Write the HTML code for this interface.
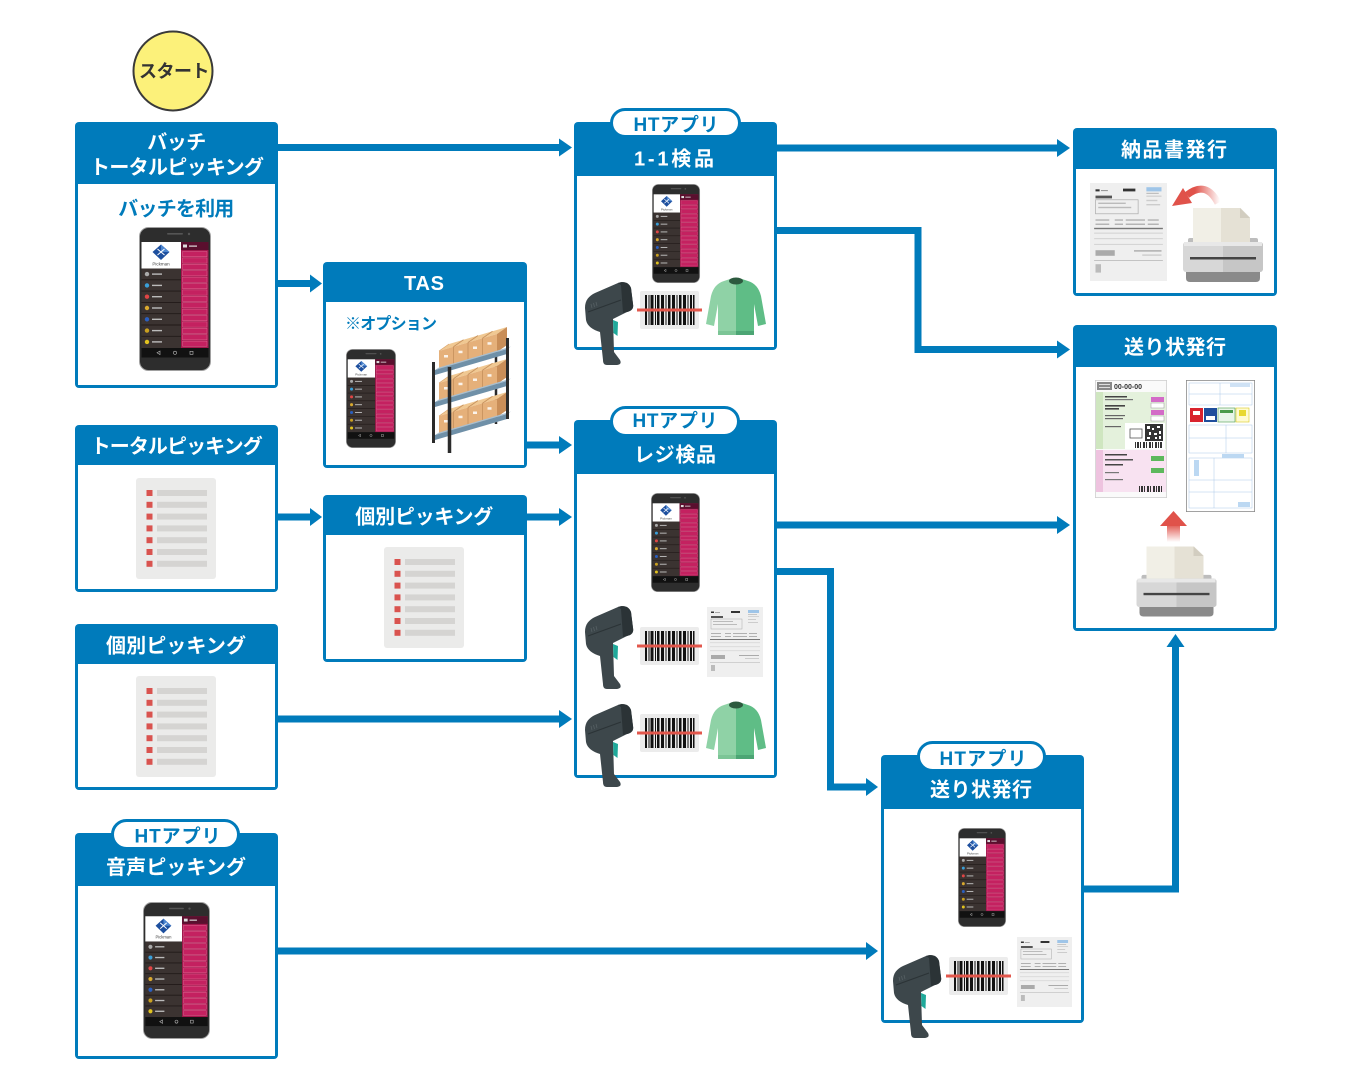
<!DOCTYPE html>
<html><head><meta charset="utf-8">
<style>
html,body{margin:0;padding:0;background:#fff;width:1352px;height:1090px;overflow:hidden}
svg{display:block}
.t{font-family:"Liberation Sans","Noto Sans CJK JP",sans-serif;font-weight:700;text-anchor:middle}
.w{fill:#fff;font-size:20px}
.b{fill:#007bbb;font-size:19px}
</style></head><body>
<svg width="1352" height="1090" viewBox="0 0 1352 1090" xmlns="http://www.w3.org/2000/svg">
<defs>
 <linearGradient id="fadeL" gradientUnits="userSpaceOnUse" x1="1220" y1="0" x2="1195" y2="0">
  <stop offset="0" stop-color="#e0524a" stop-opacity="0"/><stop offset="1" stop-color="#e0524a" stop-opacity="1"/>
 </linearGradient>
 <linearGradient id="fadeU" gradientUnits="userSpaceOnUse" x1="0" y1="542" x2="0" y2="524">
  <stop offset="0" stop-color="#e0524a" stop-opacity="0"/><stop offset="1" stop-color="#e0524a" stop-opacity="1"/>
 </linearGradient>
 <linearGradient id="sw" x1="0" y1="0" x2="1" y2="0">
  <stop offset="0" stop-color="#8fd2a6"/><stop offset="0.5" stop-color="#8fd2a6"/><stop offset="0.5" stop-color="#5fbd86"/><stop offset="1" stop-color="#5fbd86"/>
 </linearGradient>

 <g id="phone">
  <rect x="0.5" y="0.5" width="71" height="143" rx="9" fill="#2d2d2d" stroke="#a0a0a0"/>
  <rect x="28" y="6" width="16" height="1.6" rx="0.8" fill="#555"/>
  <circle cx="50" cy="7" r="1.2" fill="#555"/>
  <rect x="2.5" y="15" width="67" height="106" fill="#3b3331"/>
  <rect x="2.5" y="15" width="39.5" height="26.5" fill="#fff"/>
  <polygon points="22,17.5 30.5,25 22,33 13.5,25" fill="#1d4f9e"/>
  <polygon points="22,17.5 30.5,25 22,25" fill="#4d86cf"/>
  <path d="M18.5,22 L25.5,28 M25.5,22 L18.5,28" stroke="#fff" stroke-width="1"/>
  <text x="22" y="38.5" font-size="4.5" fill="#444" text-anchor="middle" font-family="Liberation Sans,sans-serif">Pickman</text>
  <path d="M2.5,52.8H42M2.5,64.1H42M2.5,75.4H42M2.5,86.7H42M2.5,98H42M2.5,109.3H42" stroke="#211a18" stroke-width="0.9"/>
  <circle cx="8" cy="47.1" r="2.2" fill="#aaa"/><rect x="13" y="46.4" width="10" height="1.4" fill="#bbb"/>
  <circle cx="8" cy="58.4" r="2.2" fill="#3a9fd8"/><rect x="13" y="57.7" width="10" height="1.4" fill="#bbb"/>
  <circle cx="8" cy="69.7" r="2.2" fill="#e04545"/><rect x="13" y="69" width="10" height="1.4" fill="#bbb"/>
  <circle cx="8" cy="81" r="2.2" fill="#d9a92e"/><rect x="13" y="80.3" width="10" height="1.4" fill="#bbb"/>
  <circle cx="8" cy="92.3" r="2.2" fill="#2a5fc0"/><rect x="13" y="91.6" width="10" height="1.4" fill="#bbb"/>
  <circle cx="8" cy="103.6" r="2.2" fill="#c9a020"/><rect x="13" y="102.9" width="10" height="1.4" fill="#bbb"/>
  <circle cx="8" cy="114.9" r="2.2" fill="#e1c21f"/><rect x="13" y="114.2" width="10" height="1.4" fill="#bbb"/>
  <rect x="42" y="15" width="27.5" height="106" fill="#a3174d"/>
  <rect x="42" y="15" width="27.5" height="8" fill="#5a0f2e"/>
  <rect x="44" y="17.5" width="4" height="3" fill="#ddd"/><rect x="50" y="18.5" width="8" height="1.2" fill="#ddd"/>
  <g fill="#c42160" stroke="#e67aa0" stroke-width="0.4">
   <rect x="43.5" y="24.5" width="24.5" height="5.2"/><rect x="43.5" y="30.9" width="24.5" height="5.2"/>
   <rect x="43.5" y="37.3" width="24.5" height="5.2"/><rect x="43.5" y="43.7" width="24.5" height="5.2"/>
   <rect x="43.5" y="50.1" width="24.5" height="5.2"/><rect x="43.5" y="56.5" width="24.5" height="5.2"/>
   <rect x="43.5" y="62.9" width="24.5" height="5.2"/><rect x="43.5" y="69.3" width="24.5" height="5.2"/>
   <rect x="43.5" y="75.7" width="24.5" height="5.2"/><rect x="43.5" y="82.1" width="24.5" height="5.2"/>
   <rect x="43.5" y="88.5" width="24.5" height="5.2"/><rect x="43.5" y="94.9" width="24.5" height="5.2"/>
   <rect x="43.5" y="101.3" width="24.5" height="5.2"/><rect x="43.5" y="107.7" width="24.5" height="5.2"/>
   <rect x="43.5" y="114.1" width="24.5" height="5.2"/>
  </g>
  <rect x="2.5" y="121" width="67" height="9.5" fill="#111"/>
  <g fill="none" stroke="#bbb" stroke-width="0.6">
   <polygon points="18,125.8 21,124 21,127.6"/><circle cx="36" cy="125.8" r="1.6"/><rect x="51" y="124.3" width="3" height="3"/>
  </g>
 </g>

 <g id="scanner">
  <path d="M0,26 C0,18 4,14 10,11 L33,1 C38,-1 44,0 46,6 L48,22 C49,27 46,29 42,30 L28,37 L29,70 L35,78 C37,82 34,83 31,83 L22,83 C19,83 18,81 18,78 L15,50 C8,48 2,44 1,38 Z" fill="#3d474b"/>
  <path d="M33,1 C38,-1 44,0 46,6 L48,22 C49,27 46,29 42,30 L38,31 L36,3 Z" fill="#2b3336"/>
  <path d="M3,30 L36,18" stroke="#2b3336" stroke-width="1"/>
  <path d="M6,22 L7,26 M8.5,21 L9.5,25 M11,20 L12,24" stroke="#566064" stroke-width="0.8"/>
  <path d="M28,38 L33,40 L32.5,54 L28.5,51 Z" fill="#1fa99a"/>
 </g>

 <g id="barcode">
  <rect x="0" y="0" width="59" height="38" rx="2" fill="#ececec"/>
  <g fill="#111">
   <rect x="5" y="4" width="2" height="30"/><rect x="8.5" y="4" width="1" height="30"/><rect x="10.5" y="4" width="3" height="30"/>
   <rect x="15" y="4" width="1" height="30"/><rect x="17" y="4" width="2.5" height="30"/><rect x="21" y="4" width="3" height="30"/>
   <rect x="25.5" y="4" width="1" height="30"/><rect x="28" y="4" width="2.5" height="30"/><rect x="32" y="4" width="3" height="30"/>
   <rect x="36.5" y="4" width="1" height="30"/><rect x="39" y="4" width="2.5" height="30"/><rect x="43" y="4" width="3" height="30"/>
   <rect x="47.5" y="4" width="1" height="30"/><rect x="50" y="4" width="2" height="30"/><rect x="53" y="4" width="1.5" height="30"/>
  </g>
  <rect x="-3" y="17.5" width="65" height="3" fill="#e2574c"/>
 </g>

 <g id="sweater">
  <path d="M18,3 L24,1 Q30,8 36,1 L42,3 Q52,6 55,18 L60,46 L52,48 L48,26 L48,57 L12,57 L12,26 L8,48 L0,46 L5,18 Q8,6 18,3 Z" fill="url(#sw)"/>
  <ellipse cx="30" cy="3" rx="7" ry="3.5" fill="#2d5a3f"/>
  <rect x="30" y="53" width="18" height="4" fill="#4ca574"/>
  <rect x="12" y="53" width="18" height="4" fill="#7cc596"/>
 </g>

 <g id="list">
  <rect width="80" height="101" rx="3" fill="#ebebea"/>
  <g fill="#d9534f">
   <rect x="10.5" y="12" width="6" height="6"/><rect x="10.5" y="23.8" width="6" height="6"/><rect x="10.5" y="35.6" width="6" height="6"/>
   <rect x="10.5" y="47.4" width="6" height="6"/><rect x="10.5" y="59.2" width="6" height="6"/><rect x="10.5" y="71" width="6" height="6"/>
   <rect x="10.5" y="82.8" width="6" height="6"/>
  </g>
  <g fill="#d5d4d2">
   <rect x="21" y="12" width="50" height="6"/><rect x="21" y="23.8" width="50" height="6"/><rect x="21" y="35.6" width="50" height="6"/>
   <rect x="21" y="47.4" width="50" height="6"/><rect x="21" y="59.2" width="50" height="6"/><rect x="21" y="71" width="50" height="6"/>
   <rect x="21" y="82.8" width="50" height="6"/>
  </g>
 </g>

 <g id="inv">
  <rect width="56" height="70" fill="#efefef"/>
  <rect x="4" y="4.5" width="3" height="1.5" fill="#333"/><rect x="8" y="5" width="5" height="0.8" fill="#999"/>
  <rect x="24" y="4" width="9" height="2" fill="#333"/>
  <rect x="41" y="3" width="11" height="3" fill="#9fc5e8"/><rect x="41" y="7" width="9" height="0.8" fill="#bbb"/><rect x="41" y="9" width="11" height="0.8" fill="#ccc"/>
  <rect x="4" y="9" width="12" height="2" fill="#555"/>
  <rect x="4" y="12" width="31" height="10" fill="none" stroke="#aaa" stroke-width="0.5"/>
  <rect x="6" y="14" width="20" height="1" fill="#bbb"/><rect x="6" y="17" width="24" height="1" fill="#bbb"/>
  <rect x="41" y="12" width="8" height="1" fill="#ccc"/><rect x="41" y="15" width="10" height="1" fill="#ccc"/>
  <g fill="#aaa">
   <rect x="4" y="26" width="10" height="0.9"/><rect x="18" y="26" width="6" height="0.9"/><rect x="26" y="26" width="14" height="0.9"/><rect x="42" y="26" width="8" height="0.9"/>
   <rect x="4" y="29" width="10" height="0.9"/><rect x="18" y="29" width="6" height="0.9"/><rect x="26" y="29" width="14" height="0.9"/><rect x="42" y="29" width="8" height="0.9"/>
  </g>
  <rect x="3" y="32" width="50" height="1" fill="#777"/>
  <rect x="3" y="35.5" width="50" height="0.6" fill="#ccc"/><rect x="3" y="39.5" width="50" height="0.6" fill="#ccc"/><rect x="3" y="43.5" width="50" height="0.6" fill="#ccc"/>
  <rect x="4" y="48" width="14" height="4" fill="#aaa"/><rect x="32" y="48" width="20" height="1" fill="#aaa"/><rect x="38" y="51" width="14" height="1" fill="#ccc"/>
  <rect x="3" y="55" width="50" height="0.6" fill="#bbb"/>
  <rect x="4" y="58" width="4" height="6" fill="#bbb"/>
 </g>

 <g id="printer">
  <rect x="5" y="30" width="70" height="12" rx="2" fill="#bdbdbd"/>
  <rect x="10" y="0" width="57" height="40" fill="#f1efe6"/>
  <rect x="38" y="0" width="29" height="40" fill="#e5e1d5"/>
  <polygon points="57,0 67,10 57,10" fill="#d2cdc0"/>
  <polygon points="57,-0.5 67.5,-0.5 67.5,10" fill="#fff"/>
  <rect x="0" y="34" width="80" height="30" rx="3" fill="#d7d7d7"/>
  <rect x="40" y="34" width="40" height="30" rx="3" fill="#c6c6c6"/>
  <rect x="40" y="34" width="5" height="30" fill="#c6c6c6"/>
  <rect x="1" y="34" width="78" height="4" fill="#e8e8e8"/>
  <rect x="7" y="49" width="66" height="2.5" fill="#444"/>
  <path d="M3,64 H77 V70 Q77,74 73,74 H7 Q3,74 3,70 Z" fill="#8a8a8a"/>
 </g>

 <g id="shelf">
  <polygon points="439,-1 497,-18 507,-25 449,-8" fill="#c4cfd8"/>
  <polygon points="439,-19 497,-36 507,-43 449,-26" fill="#f0c892"/>
  <polygon points="497,-18 507,-25 507,-43 497,-36" fill="#c98e58"/>
  <polygon points="439,-1 497,-18 497,-36 439,-19" fill="#e5b07a"/>
  <path d="M453.5,-5.3V-23.3M468,-9.5V-27.5M482.5,-13.8V-31.8M468,-27.5L478,-34.5M453.5,-23.3L463.5,-30.3M482.5,-31.8L492.5,-38.8" stroke="#c8935f" stroke-width="0.9"/>
  <path d="M439,-19L449,-26" stroke="#d9a26b" stroke-width="0.6"/>
  <g fill="#fff" opacity="0.85">
   <rect x="444" y="-15" width="4" height="2.5"/><rect x="458.5" y="-19.3" width="4" height="2.5"/>
   <rect x="473" y="-23.5" width="4" height="2.5"/><rect x="487.5" y="-27.8" width="4" height="2.5"/>
  </g>
  <polygon points="435,0 507,-21 511,-23.5 439,-2.5" fill="#a7bfd1"/>
  <polygon points="435,0 507,-21 507,-16 435,5" fill="#6f90a8"/>
 </g>
</defs>

<!-- Connectors -->
<g stroke="#007bbb" stroke-width="7" fill="none">
 <path d="M270,147.5 H561"/>
 <path d="M270,283.5 H311"/>
 <path d="M520,445 H561"/>
 <path d="M270,517 H311"/>
 <path d="M520,517 H561"/>
 <path d="M270,719 H561"/>
 <path d="M270,951 H867"/>
 <path d="M770,148 H1059"/>
 <path d="M770,230.5 H918 V349.5 H1059"/>
 <path d="M770,525 H1059"/>
 <path d="M770,571.5 H830.5 V787 H867"/>
 <path d="M1078,889 H1175.5 V645"/>
</g>
<g fill="#007bbb">
 <polygon points="559,138.5 572,147.5 559,156.5"/>
 <polygon points="310,274.5 322,283.5 310,292.5"/>
 <polygon points="559,436 572,445 559,454"/>
 <polygon points="310,508 322,517 310,526"/>
 <polygon points="559,508 572,517 559,526"/>
 <polygon points="559,710 572,719 559,728"/>
 <polygon points="866,942 878,951 866,960"/>
 <polygon points="1057,139 1070,148 1057,157"/>
 <polygon points="1057,340.5 1070,349.5 1057,358.5"/>
 <polygon points="1057,516 1070,525 1057,534"/>
 <polygon points="866,778 878,787 866,796"/>
 <polygon points="1166.5,647 1175.5,634 1184.5,647"/>
</g>

<!-- Start -->
<circle cx="173" cy="71" r="39.5" fill="#fcf17a" stroke="#3a3a3a" stroke-width="2"/>
<text class="t" x="174" y="77.5" font-size="18" fill="#333" letter-spacing="-0.5">スタート</text>

<!-- Boxes: outer blue, inner white -->
<g fill="#007bbb">
 <rect x="75" y="122" width="203" height="266" rx="4"/>
 <rect x="323" y="262" width="204" height="206" rx="4"/>
 <rect x="75" y="425" width="203" height="167" rx="4"/>
 <rect x="323" y="495" width="204" height="167" rx="4"/>
 <rect x="75" y="624" width="203" height="166" rx="4"/>
 <rect x="75" y="833" width="203" height="226" rx="4"/>
 <rect x="574" y="122" width="203" height="228" rx="4"/>
 <rect x="574" y="420" width="203" height="358" rx="4"/>
 <rect x="881" y="755" width="203" height="268" rx="4"/>
 <rect x="1073" y="128" width="204" height="168" rx="4"/>
 <rect x="1073" y="325" width="204" height="306" rx="4"/>
</g>
<g fill="#fff">
 <rect x="78" y="184" width="197" height="201"/>
 <rect x="326" y="302" width="198" height="163"/>
 <rect x="78" y="465" width="197" height="124"/>
 <rect x="326" y="535" width="198" height="124"/>
 <rect x="78" y="664" width="197" height="123"/>
 <rect x="78" y="886" width="197" height="170"/>
 <rect x="577" y="176" width="197" height="171"/>
 <rect x="577" y="474" width="197" height="301"/>
 <rect x="884" y="809" width="197" height="211"/>
 <rect x="1076" y="169" width="198" height="124"/>
 <rect x="1076" y="367" width="198" height="261"/>
</g>

<!-- Pills -->
<g fill="#fff" stroke="#007bbb" stroke-width="3">
 <rect x="611.5" y="109.5" width="128" height="27" rx="13.5"/>
 <rect x="611.5" y="407.5" width="127" height="28" rx="14"/>
 <rect x="918.5" y="742.5" width="126" height="28" rx="14"/>
 <rect x="112.5" y="820.5" width="126" height="28" rx="14"/>
</g>

<!-- Header texts -->
<text class="t w" x="176.7" y="149.2" textLength="59">バッチ</text>
<text class="t w" x="177" y="174" textLength="174">トータルピッキング</text>
<text class="t b" x="176.3" y="215.5" textLength="116" style="font-size:20px">バッチを利用</text>
<text class="t w" x="424" y="290" textLength="40">TAS</text>
<text class="t b" x="391" y="329" textLength="92" style="font-size:16px">※オプション</text>
<text class="t w" x="176.7" y="453" textLength="172">トータルピッキング</text>
<text class="t w" x="424.3" y="523.5" textLength="138">個別ピッキング</text>
<text class="t w" x="176" y="652.5" textLength="140">個別ピッキング</text>
<text class="t b" x="177.5" y="842.7" textLength="86">HTアプリ</text>
<text class="t w" x="176" y="874" textLength="140">音声ピッキング</text>
<text class="t b" x="676" y="131.2" textLength="85">HTアプリ</text>
<text class="t w" x="674" y="165.5" textLength="80">1-1検品</text>
<text class="t b" x="675" y="427.2" textLength="85">HTアプリ</text>
<text class="t w" x="675" y="461.5" textLength="82">レジ検品</text>
<text class="t b" x="983" y="765.2" textLength="87">HTアプリ</text>
<text class="t w" x="981" y="796.5" textLength="102">送り状発行</text>
<text class="t w" x="1174" y="156.5" textLength="106">納品書発行</text>
<text class="t w" x="1175" y="354" textLength="102">送り状発行</text>

<!-- Phones -->
<use href="#phone" transform="translate(139,227)"/>
<use href="#phone" transform="translate(346,349) scale(0.694,0.6875)"/>
<use href="#phone" transform="translate(652,184) scale(0.667,0.6875)"/>
<use href="#phone" transform="translate(651,493) scale(0.68,0.6875)"/>
<use href="#phone" transform="translate(958,828) scale(0.667,0.6875)"/>
<use href="#phone" transform="translate(143,902) scale(0.93,0.951)"/>

<!-- List docs -->
<use href="#list" transform="translate(136,478)"/>
<use href="#list" transform="translate(384,547)"/>
<use href="#list" transform="translate(136,676)"/>

<!-- Shelves -->
<g>
 <path d="M433.5,362 V443" stroke="#2a2a2a" stroke-width="3"/>
 <path d="M496,344 V424" stroke="#2a2a2a" stroke-width="2.5"/>
 <use href="#shelf" transform="translate(0,435)"/>
 <use href="#shelf" transform="translate(0,402)"/>
 <use href="#shelf" transform="translate(0,370)"/>
 <path d="M449.5,367 V453" stroke="#2b2b2b" stroke-width="3.5"/>
 <path d="M507.5,338 V419" stroke="#2b2b2b" stroke-width="3"/>
</g>

<!-- 1-1 box items -->
<use href="#barcode" transform="translate(640,291)"/>
<use href="#sweater" transform="translate(706,278)"/>
<use href="#scanner" transform="translate(585,282)"/>

<!-- Register box items -->
<use href="#barcode" transform="translate(640,627)"/>
<use href="#inv" transform="translate(707,607)"/>
<use href="#scanner" transform="translate(585,606)"/>
<use href="#barcode" transform="translate(640,714)"/>
<use href="#sweater" transform="translate(706,702)"/>
<use href="#scanner" transform="translate(585,704)"/>

<!-- HT shipping items -->
<use href="#barcode" transform="translate(949,957)"/>
<use href="#inv" transform="translate(1017,937) scale(0.982,1)"/>
<use href="#scanner" transform="translate(893,955)"/>

<!-- Invoice issue -->
<use href="#inv" transform="translate(1090,183) scale(1.375,1.4)"/>
<use href="#printer" transform="translate(1183,208)"/>
<path d="M1218,203 Q1206,180 1187,195" fill="none" stroke="url(#fadeL)" stroke-width="7"/>
<polygon points="1172,206 1183,188 1192,203" fill="#e0524a"/>

<!-- Shipping label issue -->
<g transform="translate(1095,380)">
 <rect x="0.4" y="0.4" width="71.2" height="117.2" fill="#fafafa" stroke="#cfcfcf" stroke-width="0.8"/>
 <rect x="2" y="2" width="15" height="8" fill="#888"/>
 <rect x="4" y="4" width="11" height="1" fill="#ddd"/><rect x="4" y="7" width="11" height="1" fill="#ddd"/>
 <text x="19" y="9" font-size="7" font-weight="700" fill="#333" font-family="Liberation Sans,sans-serif">00-00-00</text>
 <rect x="1" y="12" width="70" height="57" fill="#e4f1dc"/>
 <rect x="1" y="12" width="7" height="57" fill="#cfe6c0"/>
 <g fill="#444">
  <rect x="10" y="16" width="22" height="1.5"/><rect x="10" y="19" width="28" height="1.2" fill="#777"/>
  <rect x="10" y="25" width="20" height="1.6"/><rect x="10" y="28" width="14" height="1.6"/>
  <rect x="10" y="35" width="20" height="1.2" fill="#666"/><rect x="10" y="38" width="18" height="1.2" fill="#666"/>
  <rect x="10" y="46" width="16" height="1.2" fill="#666"/>
 </g>
 <rect x="56" y="17" width="13" height="5" fill="#d36bc7"/><rect x="56" y="23" width="13" height="5" fill="#fff" stroke="#999" stroke-width="0.5"/>
 <rect x="56" y="30" width="13" height="5" fill="#d36bc7"/><rect x="56" y="36" width="13" height="5" fill="#fff" stroke="#999" stroke-width="0.5"/>
 <rect x="30" y="43" width="40" height="26" fill="#fff"/>
 <rect x="35" y="49" width="12" height="9" fill="none" stroke="#555" stroke-width="0.8"/>
 <rect x="50" y="44" width="18" height="17" fill="#333"/>
 <g fill="#fff"><rect x="52" y="46" width="3" height="3"/><rect x="57" y="48" width="2" height="2"/><rect x="62" y="46" width="3" height="2"/><rect x="54" y="52" width="2" height="3"/><rect x="59" y="53" width="3" height="2"/><rect x="64" y="51" width="2" height="3"/><rect x="52" y="57" width="3" height="2"/><rect x="60" y="57" width="2" height="2"/><rect x="64" y="56" width="2" height="3"/></g>
 <g fill="#333"><rect x="40" y="62" width="1" height="6"/><rect x="42" y="62" width="2" height="6"/><rect x="45" y="62" width="1" height="6"/><rect x="48" y="62" width="2" height="6"/><rect x="51" y="62" width="1" height="6"/><rect x="54" y="62" width="2" height="6"/><rect x="57" y="62" width="1" height="6"/><rect x="60" y="62" width="2" height="6"/><rect x="63" y="62" width="1" height="6"/><rect x="65" y="62" width="2" height="6"/></g>
 <rect x="1" y="70" width="70" height="42" fill="#f8e2f1"/>
 <rect x="1" y="70" width="7" height="42" fill="#eec3df"/>
 <g fill="#444">
  <rect x="10" y="74" width="22" height="1.5"/><rect x="10" y="79" width="28" height="1.5" fill="#555"/>
  <rect x="10" y="84" width="18" height="1.5"/><rect x="10" y="92" width="14" height="1.2" fill="#777"/>
  <rect x="10" y="99" width="18" height="1.2" fill="#777"/>
 </g>
 <rect x="56" y="76" width="13" height="5" fill="#5cb85c"/><rect x="56" y="88" width="13" height="5" fill="#5cb85c"/>
 <g fill="#333"><rect x="44" y="106" width="1" height="6"/><rect x="46" y="106" width="2" height="6"/><rect x="49" y="106" width="1" height="6"/><rect x="52" y="106" width="2" height="6"/><rect x="55" y="106" width="1" height="6"/><rect x="58" y="106" width="2" height="6"/><rect x="61" y="106" width="1" height="6"/><rect x="63" y="106" width="2" height="6"/><rect x="66" y="106" width="1" height="6"/></g>
</g>
<g transform="translate(1186,380)">
 <rect x="0.4" y="0.4" width="68.2" height="131.2" fill="#fff" stroke="#8a8a8a" stroke-width="0.8"/>
 <g fill="none" stroke="#aac8e8" stroke-width="0.5">
  <rect x="3" y="3" width="63" height="22"/><path d="M3,14 H66 M34,3 V25"/>
  <rect x="3" y="45" width="63" height="28"/><path d="M3,58 H66 M40,45 V73"/>
  <rect x="3" y="78" width="63" height="50"/><path d="M3,100 H66 M3,112 H66 M28,78 V128"/>
 </g>
 <rect x="44" y="3" width="20" height="4" fill="#cfe2f5"/>
 <rect x="4" y="28" width="13" height="14" fill="#d9232e"/>
 <rect x="7" y="31" width="7" height="4" fill="#fff"/>
 <rect x="18" y="28" width="13" height="14" fill="#1f4e9c"/>
 <rect x="20" y="36" width="9" height="4" fill="#fff"/>
 <rect x="32" y="28" width="17" height="14" fill="#e9f5e9" stroke="#4a9a4a" stroke-width="0.6"/>
 <rect x="34" y="30" width="13" height="3" fill="#4a9a4a"/>
 <rect x="50" y="28" width="13" height="14" fill="#fffbd0" stroke="#d8c820" stroke-width="0.6"/>
 <rect x="53" y="30" width="7" height="6" fill="#e8d830"/>
 <rect x="36" y="74" width="22" height="4" fill="#bcd8f2"/>
 <rect x="8" y="80" width="5" height="16" fill="#bcd8f2"/>
 <rect x="52" y="122" width="12" height="5" fill="#bcd8f2"/>
</g>
<polygon points="1160,526 1173.5,511 1187,526" fill="#e0524a"/>
<rect x="1167" y="525" width="13" height="17" fill="url(#fadeU)"/>
<use href="#printer" transform="translate(1136.5,546.5) scale(1,0.946)"/>

</svg>
</body></html>
